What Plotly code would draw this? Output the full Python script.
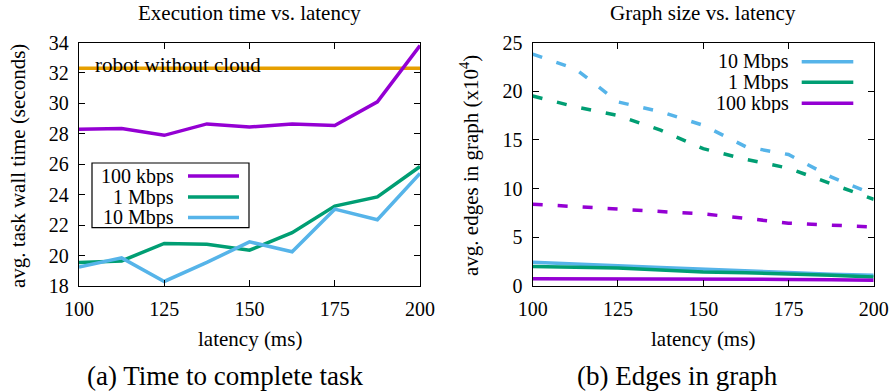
import plotly.graph_objects as go

# ---------------- data ----------------
latency = [100, 112.5, 125, 137.5, 150, 162.5, 175, 187.5, 200]
x_ticks = [100, 125, 150, 175, 200]

# (a) execution time (seconds)
time_100kbps = [28.3, 28.35, 27.9, 28.65, 28.45, 28.65, 28.55, 30.1, 33.8]
time_1mbps = [19.55, 19.65, 20.8, 20.75, 20.35, 21.5, 23.25, 23.85, 25.85]
time_10mbps = [19.25, 19.85, 18.3, 19.55, 20.9, 20.25, 23.05, 22.35, 25.4]
robot_latency = [100, 200]
robot_without_cloud = [32.3, 32.3]

# (b) edges in graph (x10^4), dashed and solid series
edges_dashed_10mbps = [23.8, 22.3, 18.9, 17.9, 16.5, 14.3, 13.5, 11.2, 9.4]
edges_dashed_1mbps = [19.5, 18.4, 17.5, 16.0, 14.1, 13.0, 12.1, 10.5, 8.9]
edges_dashed_100kbps = [8.4, 8.15, 7.9, 7.7, 7.4, 6.95, 6.45, 6.25, 6.05]
edges_solid_10mbps = [2.45, 2.3, 2.07, 1.9, 1.7, 1.55, 1.38, 1.2, 1.1]
edges_solid_1mbps = [2.0, 1.9, 1.86, 1.65, 1.45, 1.35, 1.25, 1.1, 0.93]
edges_solid_100kbps = [0.75, 0.75, 0.74, 0.73, 0.72, 0.7, 0.68, 0.63, 0.6]

labels = ["100 kbps", "1 Mbps", "10 Mbps"]
# --------------------------------------

W, H = 894, 391
PURPLE, GREEN, BLUE, ORANGE = "#9400D3", "#009E73", "#56B4E9", "#E69F00"
FONT = "Liberation Serif"
LW = 3.5
DASH = "10px,15px"

def px(x):
    return x / W

def py(y):
    return 1 - y / H

fig = go.Figure()

# left panel traces
fig.add_trace(go.Scatter(x=robot_latency, y=robot_without_cloud, mode="lines",
                         line=dict(color=ORANGE, width=LW), xaxis="x", yaxis="y", showlegend=False))
fig.add_trace(go.Scatter(x=latency, y=time_100kbps, mode="lines",
                         line=dict(color=PURPLE, width=LW), xaxis="x", yaxis="y", showlegend=False))
fig.add_trace(go.Scatter(x=latency, y=time_1mbps, mode="lines",
                         line=dict(color=GREEN, width=LW), xaxis="x", yaxis="y", showlegend=False))
fig.add_trace(go.Scatter(x=latency, y=time_10mbps, mode="lines",
                         line=dict(color=BLUE, width=LW), xaxis="x", yaxis="y", showlegend=False))

# right panel traces
for ys, c in [(edges_dashed_10mbps, BLUE), (edges_dashed_1mbps, GREEN), (edges_dashed_100kbps, PURPLE)]:
    fig.add_trace(go.Scatter(x=latency, y=ys, mode="lines",
                             line=dict(color=c, width=LW, dash=DASH), xaxis="x2", yaxis="y2", showlegend=False))
for ys, c in [(edges_solid_10mbps, BLUE), (edges_solid_1mbps, GREEN), (edges_solid_100kbps, PURPLE)]:
    fig.add_trace(go.Scatter(x=latency, y=ys, mode="lines",
                             line=dict(color=c, width=LW), xaxis="x2", yaxis="y2", showlegend=False))

TICKFONT = dict(family=FONT, size=20, color="black")
axis_common = dict(showgrid=False, zeroline=False, showline=True, linecolor="black", linewidth=1.3,
                   mirror="ticks", ticks="inside", ticklen=6, tickwidth=1.2, tickcolor="black",
                   tickfont=TICKFONT, automargin=False)

ydom = [py(286), py(42.5)]
fig.update_layout(
    width=W, height=H,
    margin=dict(l=0, r=0, t=0, b=0, pad=0),
    paper_bgcolor="white", plot_bgcolor="white",
    showlegend=False,
    xaxis=dict(domain=[px(79), px(420)], range=[100, 200], tickvals=x_ticks, anchor="y",
               ticklabelstandoff=5, **axis_common),
    yaxis=dict(domain=ydom, range=[18, 34], dtick=2, anchor="x", ticklabelstandoff=5, **axis_common),
    xaxis2=dict(domain=[px(532.7), px(873.7)], range=[100, 200], tickvals=x_ticks, anchor="y2",
                ticklabelstandoff=5, **axis_common),
    yaxis2=dict(domain=ydom, range=[0, 25], dtick=5, anchor="x2", ticklabelstandoff=5, **axis_common),
)

annotations = []
def text(x, y, s, size=21, xanchor="center", angle=0, height=None):
    a = dict(x=px(x), y=py(y), xref="paper", yref="paper", text=s, showarrow=False,
             xanchor=xanchor, yanchor="middle", textangle=angle,
             font=dict(family=FONT, size=size, color="black"))
    if height is not None:
        a["height"] = height
        a["valign"] = "middle"
    annotations.append(a)

# titles
text(249.5, 13, "Execution time vs. latency")
text(703, 13, "Graph size vs. latency")
# axis titles
text(249.5, 339, "latency (ms)")
text(703, 339, "latency (ms)")
text(18, 166, "avg. task wall time (seconds)", angle=-90)
text(469, 166, "avg. edges in graph (x10<sup>4</sup>)", angle=-90)
# captions
text(225, 376, "(a) Time to complete task", size=27)
text(677, 376, "(b) Edges in graph", size=27)
# robot label
text(92.7, 65, "robot without cloud", xanchor="left")

shapes = []
# left legend (boxed)
shapes.append(dict(type="rect", xref="paper", yref="paper", x0=px(92), x1=px(249), y0=py(227.7), y1=py(163),
                   line=dict(color="black", width=1.2), fillcolor="white", layer="above"))
left_legend = [(labels[0], PURPLE, 176), (labels[1], GREEN, 197), (labels[2], BLUE, 217.5)]
for lab, c, yy in left_legend:
    text(176, yy, lab, size=20, xanchor="right", height=19)
    shapes.append(dict(type="line", xref="paper", yref="paper", x0=px(188), x1=px(239), y0=py(yy), y1=py(yy),
                       line=dict(color=c, width=LW), layer="above"))
# right legend
right_legend = [(labels[2], BLUE, 61.7), (labels[1], GREEN, 82.3), (labels[0], PURPLE, 103.3)]
for lab, c, yy in right_legend:
    text(790.7, yy, lab, size=20, xanchor="right", height=19)
    shapes.append(dict(type="line", xref="paper", yref="paper", x0=px(801.7), x1=px(853.3), y0=py(yy), y1=py(yy),
                       line=dict(color=c, width=LW), layer="above"))

fig.update_layout(annotations=annotations, shapes=shapes)
fig.write_html("out.html", config={"displayModeBar": False},
               post_script="document.body.style.margin='0px';")
